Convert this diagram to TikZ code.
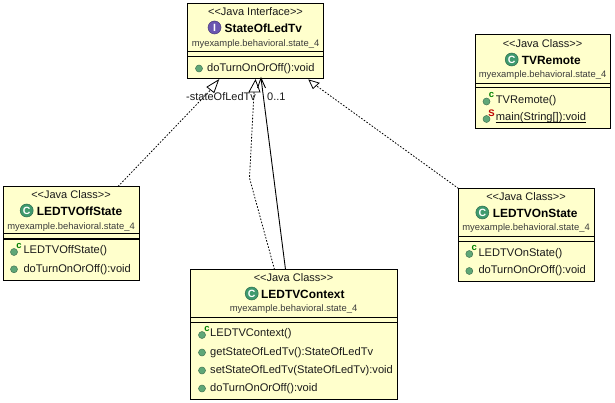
\documentclass[tikz,border=0pt]{standalone}
\usepackage{fontspec}
\setmainfont{Liberation Sans}
\usetikzlibrary{arrows.meta}
\definecolor{boxfill}{HTML}{FFFFCC}
\definecolor{dotgreen}{HTML}{5FA777}
\definecolor{clsgreen}{HTML}{3F9A6E}
\definecolor{ifcpurple}{HTML}{6A56B0}
\definecolor{txt}{HTML}{1A1A1A}
\tikzset{
  classbox/.style={draw=black,fill=boxfill,line width=1pt,inner sep=0pt,outer sep=0pt,anchor=north west},
  sepline/.style={draw=black,line width=1pt},
  stereo/.style={font=\fontsize{11}{12}\selectfont,text=txt,inner sep=0pt},
  clsname/.style={font=\fontsize{11.9}{14}\selectfont\bfseries,text=black,inner sep=0pt,anchor=west},
  pkg/.style={font=\fontsize{9.4}{10}\selectfont,text=txt!85,inner sep=0pt},
  member/.style={font=\fontsize{11.1}{12}\selectfont,text=txt,inner sep=0pt,anchor=west,text height=8pt,text depth=2.5pt},
  icon/.style={circle,inner sep=0pt,minimum size=13pt,text=white,font=\fontsize{10.5}{10.5}\selectfont\bfseries,draw=#1!70!black,fill=#1,line width=.5pt},
  dot/.style={circle,inner sep=0pt,minimum size=7pt,draw=dotgreen!70!black,fill=dotgreen,line width=.5pt},
  ctor/.style={font=\fontsize{9.5}{9.5}\selectfont\bfseries,text=green!50!black,inner sep=0pt},
  stat/.style={font=\fontsize{9.5}{9.5}\selectfont\bfseries,text=red!75!black,inner sep=0pt},
  realize/.style={draw=black,line width=.8pt,dash pattern=on 1.6pt off 1.6pt},
  assoc/.style={draw=black,line width=.9pt},
  hollow/.style={draw=black,line width=.8pt,fill=white,line join=miter},
  edgelabel/.style={font=\fontsize{11}{12}\selectfont,text=txt,inner sep=0pt},
}
\newcommand{\umlbox}[7]{% name,x0,y0,x1,y1,sep1,sep2
  \node[classbox,minimum width=#4pt-#2pt,minimum height=#5pt-#3pt] (#1) at (#2,#3) {};
  \draw[sepline] (#1.west |- 0,#6) -- (#1.east |- 0,#6);
  \draw[sepline] (#1.west |- 0,#7) -- (#1.east |- 0,#7);
}
\newcommand{\stereoL}{{<}{<}}
\newcommand{\stereoR}{{>}{>}}
\begin{document}
\begin{tikzpicture}[x=1pt,y=-1pt]
\useasboundingbox (0,0) rectangle (615,403);
\fill[white] (0,0) rectangle (615,403);

\umlbox{ifc}{187.5}{3.5}{323.5}{79}{52}{56.5}
\umlbox{remote}{475.5}{35}{610}{129}{83.5}{88}
\umlbox{off}{3.5}{186.5}{139.5}{280.5}{234}{239}
\umlbox{on}{458.5}{188.5}{594}{281.5}{236.5}{241.5}
\umlbox{ctx}{190.5}{269.5}{397.5}{399}{317.5}{322}

% StateOfLedTv
\node[stereo] (ifcS) at (255.5,12) {\stereoL Java Interface\stereoR};
\node[icon=ifcpurple] (ifcI) at (214.5,27.5) {I};
\node[clsname] (ifcN) at (224.5,28) {StateOfLedTv};
\node[pkg] (ifcP) at (255.5,44) {myexample.behavioral.state\_4};
\node[dot] (ifcD1) at (199,68.5) {};
\node[member] (ifcM1) at (207,68.5) {doTurnOnOrOff():void};

% TVRemote
\node[stereo] (remS) at (542.5,44) {\stereoL Java Class\stereoR};
\node[icon=clsgreen] (remI) at (511.7,59.5) {C};
\node[clsname] (remN) at (521.7,60) {TVRemote};
\node[pkg] (remP) at (542.5,75) {myexample.behavioral.state\_4};
\node[dot] (remD1) at (486.5,101.5) {};
\node[ctor] (remC1) at (491.5,95) {c};
\node[member] (remM1) at (495.7,100.7) {TVRemote()};
\node[dot] (remD2) at (486.5,119) {};
\node[stat] (remC2) at (491.5,113) {S};
\node[member] (remM2) at (495.7,118) {main(String[]):void};
\draw[black,line width=.8pt] (remM2.west |- 0,122.7) -- (remM2.east |- 0,122.7);

% LEDTVOffState
\node[stereo] (offS) at (71,195) {\stereoL Java Class\stereoR};
\node[icon=clsgreen] (offI) at (26.7,210.5) {C};
\node[clsname] (offN) at (36.7,211) {LEDTVOffState};
\node[pkg] (offP) at (71,226.7) {myexample.behavioral.state\_4};
\node[dot] (offD1) at (14,252) {};
\node[ctor] (offC1) at (19,246) {c};
\node[member] (offM1) at (23.3,251) {LEDTVOffState()};
\node[dot] (offD2) at (14,269.3) {};
\node[member] (offM2) at (23.3,269.3) {doTurnOnOrOff():void};

% LEDTVOnState
\node[stereo] (onS) at (526,197) {\stereoL Java Class\stereoR};
\node[icon=clsgreen] (onI) at (482.3,212.5) {C};
\node[clsname] (onN) at (492.7,213) {LEDTVOnState};
\node[pkg] (onP) at (526,227.7) {myexample.behavioral.state\_4};
\node[dot] (onD1) at (469.3,254) {};
\node[ctor] (onC1) at (474.3,248) {c};
\node[member] (onM1) at (478.3,253.3) {LEDTVOnState()};
\node[dot] (onD2) at (469.3,271) {};
\node[member] (onM2) at (478.3,271) {doTurnOnOrOff():void};

% LEDTVContext
\node[stereo] (ctxS) at (293.5,278) {\stereoL Java Class\stereoR};
\node[icon=clsgreen] (ctxI) at (251.7,293.5) {C};
\node[clsname] (ctxN) at (261,294) {LEDTVContext};
\node[pkg] (ctxP) at (293.5,309) {myexample.behavioral.state\_4};
\node[dot] (ctxD1) at (202,335) {};
\node[ctor] (ctxC1) at (207,329) {c};
\node[member] (ctxM1) at (210,334) {LEDTVContext()};
\node[dot] (ctxD2) at (202,352.5) {};
\node[member] (ctxM2) at (210,352.5) {getStateOfLedTv():StateOfLedTv};
\node[dot] (ctxD3) at (202,370.5) {};
\node[member] (ctxM3) at (210,370.5) {setStateOfLedTv(StateOfLedTv):void};
\node[dot] (ctxD4) at (202,388.5) {};
\node[member] (ctxM4) at (210,388.5) {doTurnOnOrOff():void};

% realization connectors: dotted shaft + hollow triangle
\coordinate (bend) at (249.5,178);
\draw[realize] ([xshift=-21.5pt]off.north east) -- (210.5,90);
\draw[hollow] (218.5,80) -- (207,87) -- (214,92.5) -- cycle;
\draw[realize] (on.north west) -- (316,85.5);
\draw[hollow] (309,80) -- (313,88.5) -- (319,83) -- cycle;
\draw[realize] ([xshift=-19.5pt]ctx.north) -- (bend) -- (254,92);
\draw[hollow] (255.5,80) -- (249,92) -- (260,92) -- cycle;
% association
\draw[assoc] ([xshift=-8.5pt]ctx.north) -- ([xshift=5.5pt,yshift=1pt]ifc.south);
\draw[assoc] (257.5,88) -- ([xshift=5.5pt,yshift=1pt]ifc.south) -- (265.5,88);

\node[edgelabel,anchor=west] (role) at (186,97) {-stateOfLedTv};
\node[edgelabel,anchor=west] (mult) at (267,96.5) {0..1};
\end{tikzpicture}
\end{document}
